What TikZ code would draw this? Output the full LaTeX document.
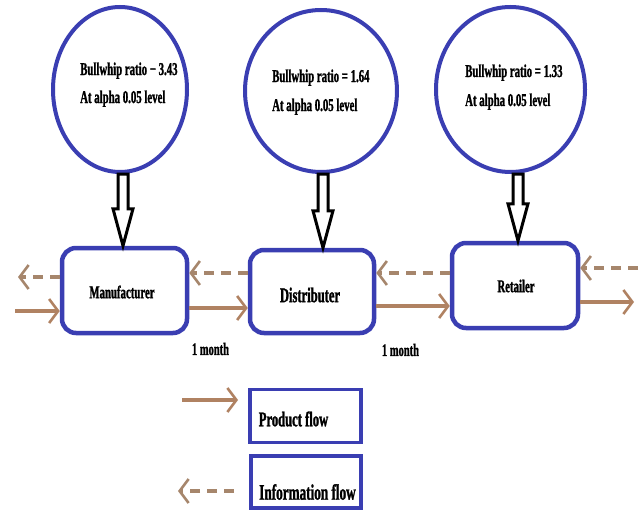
\documentclass[tikz,border=0pt]{standalone}
\usepackage{fontspec}
\setmainfont{Liberation Serif}
\newfontfamily\cond[FakeStretch=0.6,FakeBold=1.2]{Liberation Serif}
\usetikzlibrary{shapes.geometric,arrows.meta,calc}
\definecolor{bl}{RGB}{58,62,178}
\definecolor{br}{RGB}{176,130,98}
\definecolor{brd}{RGB}{166,134,108}
\begin{document}
\begin{tikzpicture}[x=1pt,y=-1pt,
  circ/.style={ellipse, draw=bl, line width=4pt, inner sep=0pt, fill=white},
  boxn/.style={draw=bl, line width=4.5pt, rounded corners=14pt, inner sep=0pt, fill=white},
  lbox/.style={draw=bl, line width=3.2pt, inner sep=0pt},
  ctext/.style={anchor=base west, inner sep=0pt, font=\cond\bfseries\fontsize{18}{20}\selectfont},
  ntext/.style={inner sep=0pt, font=\cond\bfseries\fontsize{18}{20}\selectfont},
  prod/.style={draw=br, line width=4pt, -{Straight Barb[length=9pt,width=24pt,line width=2.6pt]}},
  info/.style={draw=brd, line width=4pt, dash pattern=on 10pt off 7pt, -{Straight Barb[length=9pt,width=24pt,line width=2.6pt]}},
  hollow/.style={draw=black, line width=3pt, fill=white, line join=miter,
    to path={let \p1=(\tikztostart), \p2=(\tikztotarget) in
      ({\x1-5pt},{\y1}) -- ({\x1-5pt},{\y2+37pt}) -- ({\x1-10pt},{\y2+37pt}) -- ({\x1},{\y2})
      -- ({\x1+10pt},{\y2+37pt}) -- ({\x1+5pt},{\y2+37pt}) -- ({\x1+5pt},{\y1}) -- cycle}}
]
\useasboundingbox (0,0) rectangle (640,511);
% circles
\node[circ, minimum width=134pt, minimum height=165pt] (c1) at (120,89.5) {};
\node[circ, minimum width=152pt, minimum height=162pt] (c2) at (321,91) {};
\node[circ, minimum width=149pt, minimum height=165pt] (c3) at (510.5,89.5) {};
\node[ctext] (t1a) at (80,75) {Bullwhip ratio − 3.43};
\node[ctext] (t1b) at (80,103) {At alpha 0.05 level};
\node[ctext] (t2a) at (272,82) {Bullwhip ratio = 1.64};
\node[ctext] (t2b) at (272,111) {At alpha 0.05 level};
\node[ctext] (t3a) at (465,77) {Bullwhip ratio = 1.33};
\node[ctext] (t3b) at (465,106) {At alpha 0.05 level};
% boxes
\node[boxn, minimum width=125pt, minimum height=85pt] (m) at (124.5,290.5) {};
\node[boxn, minimum width=124pt, minimum height=83pt] (d) at (312,291.5) {};
\node[boxn, minimum width=126pt, minimum height=85pt] (r) at (515,285.5) {};
\node[ntext] (mt) at (122,292) {Manufacturer};
\node[ntext, font=\cond\bfseries\fontsize{21}{23}\selectfont] (dt) at (310,295) {Distributer};
\node[ntext] (rt) at (516,286) {Retailer};
% hollow arrows
\draw[hollow] ([xshift=3pt]c1.south) to (m.north);
\draw[hollow] ([xshift=2pt]c2.south) to (d.north);
\draw[hollow] ([xshift=7.5pt]c3.south) to (r.north);
% product flow
\coordinate (pin) at (15,311);
\coordinate (pout) at (634,302);
\draw[prod] (pin) -- (pin -| m.west);
\draw[prod] ([yshift=-17.5pt]m.east) -- ([yshift=-17.5pt]m.east -| d.west);
\draw[prod] ([yshift=-14.5pt]d.east) -- ([yshift=-14.5pt]d.east -| r.west);
\draw[prod] ([yshift=-16.5pt]r.east) -- (pout);
% information flow
\coordinate (iin) at (638,268);
\coordinate (iout) at (18,277);
\draw[info] ([yshift=18.5pt]d.west) -- ([yshift=18.5pt]d.west -| m.east);
\draw[info] ([yshift=12.5pt]r.west) -- ([yshift=12.5pt]r.west -| d.east);
\draw[info] (iin) -- (iin -| r.east);
\draw[info] ([yshift=13.5pt]m.west) -- (iout);
% labels
\node[ntext, font=\cond\bfseries\fontsize{17.5}{19}\selectfont] (l1) at (210.5,349) {1 month};
\node[ntext, font=\cond\bfseries\fontsize{17.5}{19}\selectfont] (l2) at (400.5,350) {1 month};
% legend
\node[lbox, minimum width=111pt, minimum height=53pt] (lpb) at (305.5,416) {};
\node[lbox, minimum width=110pt, minimum height=52pt] (lib) at (306,482) {};
\node[ntext, font=\cond\bfseries\fontsize{21}{23}\selectfont] (lpt) at (293.5,419) {Product flow};
\node[ntext, font=\cond\bfseries\fontsize{22}{24}\selectfont] (lit) at (307.5,492) {Information flow};
\coordinate (lp1) at (182,400);
\coordinate (lp2) at (238,400);
\coordinate (li1) at (234,491);
\coordinate (li2) at (178,491);
\draw[prod] (lp1) -- (lp2);
\draw[info] (li1) -- (li2);
\end{tikzpicture}
\end{document}
